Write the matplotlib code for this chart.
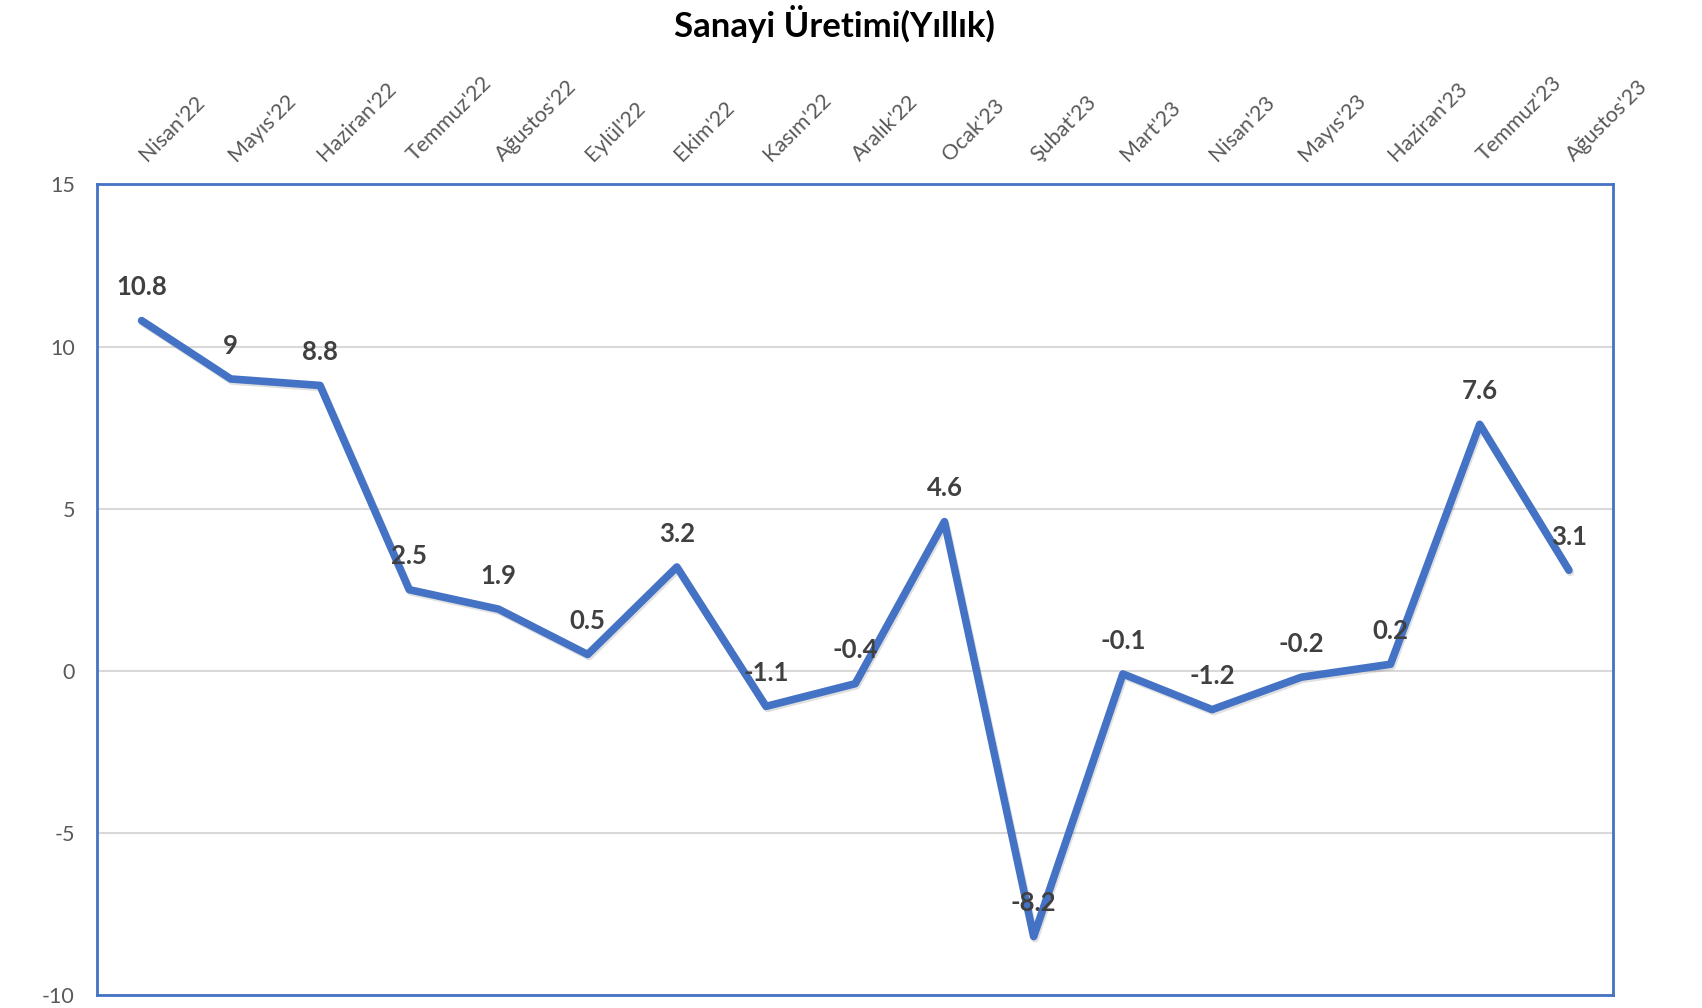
import matplotlib.pyplot as plt
import matplotlib.patheffects as pe
import matplotlib.transforms as mtransforms

months = ["Nisan'22", "Mayıs'22", "Haziran'22", "Temmuz'22", "Ağustos'22",
          "Eylül'22", "Ekim'22", "Kasım'22", "Aralık'22", "Ocak'23",
          "Şubat'23", "Mart'23", "Nisan'23", "Mayıs'23", "Haziran'23",
          "Temmuz'23", "Ağustos'23"]
values = [10.8, 9, 8.8, 2.5, 1.9, 0.5, 3.2, -1.1, -0.4, 4.6,
          -8.2, -0.1, -1.2, -0.2, 0.2, 7.6, 3.1]
yticks = [-10, -5, 0, 5, 10, 15]

plt.rcParams['font.family'] = ['Lato', 'DejaVu Sans']
plt.rcParams['axes.unicode_minus'] = False
blue = "#4472C4"

fig = plt.figure(figsize=(17.02, 10.08), dpi=100)
ax = fig.add_axes([0.057, 0.013, 0.891, 0.804])

x = list(range(len(values)))
ax.plot(x, values, color=blue, lw=5.5, solid_capstyle='round', solid_joinstyle='round',
        path_effects=[pe.SimpleLineShadow(offset=(1, -1.5), alpha=0.12), pe.Normal()],
        zorder=3)

for xi, v in zip(x, values):
    ax.annotate(f"{v:g}", (xi, v), xytext=(0, 24), textcoords='offset points',
                ha='center', va='center', fontsize=18.5, fontweight='bold',
                color='#404040', zorder=4)

ax.set_xlim(-0.5, len(values) - 0.5)
ax.set_ylim(-10, 15)
ax.set_yticks(yticks)
ax.set_yticklabels([str(t) for t in yticks])
ax.yaxis.grid(True, color='#D9D9D9', lw=1.5)
ax.set_axisbelow(True)
ax.tick_params(axis='y', length=0, pad=16, labelsize=15.5, labelcolor='#595959')

ax.set_xticks(x)
ax.set_xticklabels(months, rotation=45, ha='left', rotation_mode='anchor')
ax.tick_params(axis='x', length=0, pad=14, labelsize=15.5, labelcolor='#595959',
               top=True, labeltop=True, bottom=False, labelbottom=False)
# nudge the rotated month labels a little to the right
shift = mtransforms.ScaledTranslation(0.08, 0, fig.dpi_scale_trans)
for lab in ax.get_xticklabels():
    lab.set_transform(lab.get_transform() + shift)

for s in ax.spines.values():
    s.set_color(blue)
    s.set_linewidth(2)

fig.text(0.49, 0.976, "Sanayi Üretimi(Yıllık)", ha='center', va='center',
         fontsize=25, fontweight='bold', color='black')

fig.savefig("out.png", dpi=100)
